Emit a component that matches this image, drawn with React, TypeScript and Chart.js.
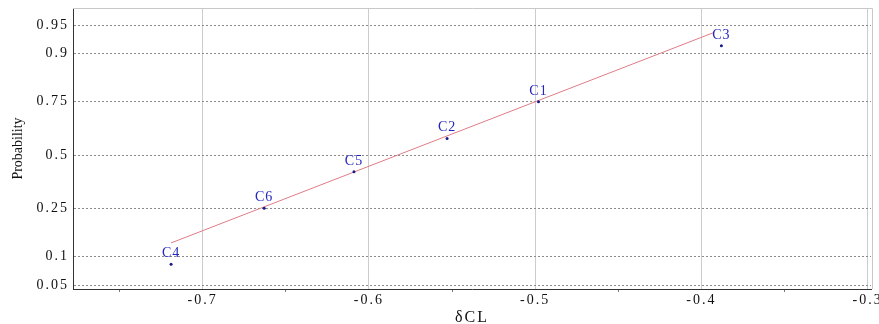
import React, { useEffect, useRef } from "react";
import { Chart, registerables } from "chart.js";

Chart.register(...registerables);

// ---- data ----
const sampleNames = ["C1", "C2", "C3", "C4", "C5", "C6"];
const deltaCL = [-0.498, -0.553, -0.388, -0.719, -0.609, -0.663];
const probability = [0.75, 0.5833, 0.9167, 0.0833, 0.4167, 0.25];

const fitX = [-0.719, -0.393];
const fitProbability = [0.133, 0.939];

const yTickProbs = [0.05, 0.1, 0.25, 0.5, 0.75, 0.9, 0.95];
const yTickLabels = ["0.05", "0.1", "0.25", "0.5", "0.75", "0.9", "0.95"];
const yRangeProbs = [0.045, 0.9686];

const xMajorTicks = [-0.7, -0.6, -0.5, -0.4, -0.3];
const xMinorTicks = [-0.75, -0.65, -0.55, -0.45, -0.35];
const xTickLabels = ["-0.7", "-0.6", "-0.5", "-0.4", "-0.3"];
const xRange = [-0.778, -0.298];

// inverse standard normal CDF (Acklam)
function probit(p: number): number {
  const a = [-3.969683028665376e1, 2.209460984245205e2, -2.759285104469687e2, 1.38357751867269e2, -3.066479806614716e1, 2.506628277459239];
  const b = [-5.447609879822406e1, 1.615858368580409e2, -1.556989798598866e2, 6.680131188771972e1, -1.328068155288572e1];
  const c = [-7.784894002430293e-3, -3.223964580411365e-1, -2.400758277161838, -2.549732539343734, 4.374664141464968, 2.938163982698783];
  const d = [7.784695709041462e-3, 3.224671290700398e-1, 2.445134137142996, 3.754408661907416];
  const pl = 0.02425;
  const ph = 1 - pl;
  if (p < pl) {
    const q = Math.sqrt(-2 * Math.log(p));
    return (((((c[0] * q + c[1]) * q + c[2]) * q + c[3]) * q + c[4]) * q + c[5]) / ((((d[0] * q + d[1]) * q + d[2]) * q + d[3]) * q + 1);
  }
  if (p <= ph) {
    const q = p - 0.5;
    const r = q * q;
    return ((((((a[0] * r + a[1]) * r + a[2]) * r + a[3]) * r + a[4]) * r + a[5]) * q) / (((((b[0] * r + b[1]) * r + b[2]) * r + b[3]) * r + b[4]) * r + 1);
  }
  const q = Math.sqrt(-2 * Math.log(1 - p));
  return -(((((c[0] * q + c[1]) * q + c[2]) * q + c[3]) * q + c[4]) * q + c[5]) / ((((d[0] * q + d[1]) * q + d[2]) * q + d[3]) * q + 1);
}

const SERIF = "'Liberation Serif', 'Times New Roman', serif";

export default function App() {
  const canvasRef = useRef<HTMLCanvasElement | null>(null);

  useEffect(() => {
    const canvas = canvasRef.current;
    if (!canvas) return;

    const points = deltaCL.map((x, i) => ({ x, y: probit(probability[i]) }));
    const fitLine = fitX.map((x, i) => ({ x, y: probit(fitProbability[i]) }));
    const xAllTicks = [...xMinorTicks, ...xMajorTicks].sort((a, b) => a - b);
    const isMajor = (v: number) => xMajorTicks.some((m) => Math.abs(m - v) < 1e-9);

    const spacingPlugin = {
      id: "spacing",
      beforeLayout(chart: any) {
        chart.ctx.letterSpacing = "2px";
      },
      beforeDraw(chart: any) {
        chart.ctx.letterSpacing = "2px";
      },
    };

    const decorPlugin = {
      id: "decor",
      beforeDatasetsDraw(chart: any) {
        const { ctx, chartArea } = chart;
        ctx.save();
        ctx.strokeStyle = "#c8c8c8";
        ctx.lineWidth = 1;
        ctx.beginPath();
        ctx.moveTo(chartArea.left, chartArea.top + 0.5);
        ctx.lineTo(chartArea.right + 1.5, chartArea.top + 0.5);
        ctx.lineTo(chartArea.right + 1.5, chartArea.bottom);
        ctx.stroke();
        ctx.restore();
      },
      afterDatasetsDraw(chart: any) {
        const { ctx } = chart;
        const meta = chart.getDatasetMeta(0);
        ctx.save();
        ctx.letterSpacing = "1px";
        ctx.font = `14px ${SERIF}`;
        ctx.fillStyle = "#2525c0";
        ctx.textAlign = "center";
        ctx.textBaseline = "alphabetic";
        meta.data.forEach((el: any, i: number) => {
          ctx.fillText(sampleNames[i], el.x, el.y - 7);
        });
        ctx.restore();
      },
      afterDraw(chart: any) {
        const { ctx, chartArea } = chart;
        ctx.save();
        ctx.letterSpacing = "0px";
        ctx.font = `14px ${SERIF}`;
        ctx.fillStyle = "#111";
        ctx.textAlign = "center";
        ctx.textBaseline = "middle";
        ctx.translate(18, (chartArea.top + chartArea.bottom) / 2);
        ctx.rotate(-Math.PI / 2);
        ctx.fillText("Probability", 0, 0);
        ctx.restore();
      },
    };

    const chart = new Chart(canvas, {
      type: "scatter",
      data: {
        datasets: [
          {
            data: points,
            pointRadius: 1.5,
            pointBackgroundColor: "#1a1a8c",
            pointBorderWidth: 0,
            showLine: false,
            order: 1,
          },
          {
            data: fitLine,
            showLine: true,
            pointRadius: 0,
            borderColor: "#e07c86",
            borderWidth: 1,
            fill: false,
            order: 2,
          },
        ],
      },
      options: {
        animation: false,
        responsive: false,
        events: [],
        layout: { padding: { left: 0, top: 8, right: 8, bottom: 0 } },
        plugins: { legend: { display: false }, tooltip: { enabled: false } },
        scales: {
          x: {
            type: "linear",
            min: xRange[0],
            max: xRange[1],
            afterBuildTicks(scale: any) {
              scale.ticks = xAllTicks.map((v) => ({ value: v }));
            },
            afterFit(scale: any) {
              scale.height = 35;
              scale.paddingLeft = 0;
              scale.paddingRight = 0;
            },
            ticks: {
              autoSkip: false,
              maxRotation: 0,
              padding: 0,
              color: "#111",
              font: { family: SERIF, size: 14 },
              callback(value: any) {
                const idx = xMajorTicks.findIndex((m) => Math.abs(m - value) < 1e-9);
                return idx >= 0 ? xTickLabels[idx] : "";
              },
            },
            grid: {
              color: (ctx: any) => (ctx.tick && isMajor(ctx.tick.value) ? "#cccccc" : "rgba(0,0,0,0)"),
              tickColor: (ctx: any) => (ctx.tick && isMajor(ctx.tick.value) ? "rgba(0,0,0,0)" : "#777"),
              tickLength: 3,
              lineWidth: 1,
            },
            border: { display: true, color: "#333", width: 1 },
            title: {
              display: true,
              text: "δCL",
              color: "#111",
              font: { family: SERIF, size: 16, lineHeight: 0.8 },
              padding: 0,
            },
          },
          y: {
            type: "linear",
            min: probit(yRangeProbs[0]),
            max: probit(yRangeProbs[1]),
            afterBuildTicks(scale: any) {
              scale.ticks = yTickProbs.map((p) => ({ value: probit(p) }));
            },
            afterFit(scale: any) {
              scale.width = 73;
              scale.paddingTop = 0;
              scale.paddingBottom = 0;
            },
            ticks: {
              autoSkip: false,
              padding: 4,
              color: "#111",
              font: { family: SERIF, size: 14 },
              callback(_value: any, index: number) {
                return yTickLabels[index];
              },
            },
            grid: {
              color: "#8a8a8a",
              drawTicks: false,
              lineWidth: 1,
            },
            border: { display: true, color: "#333", width: 1, dash: [2, 2] },
            title: { display: false },
          },
        },
      },
      plugins: [spacingPlugin, decorPlugin],
    } as any);

    return () => chart.destroy();
  }, []);

  return (
    <div style={{ position: "absolute", left: 0, top: 0, width: 879, height: 324, background: "#fff" }}>
      <canvas ref={canvasRef} width={879} height={324} style={{ display: "block" }} />
    </div>
  );
}
